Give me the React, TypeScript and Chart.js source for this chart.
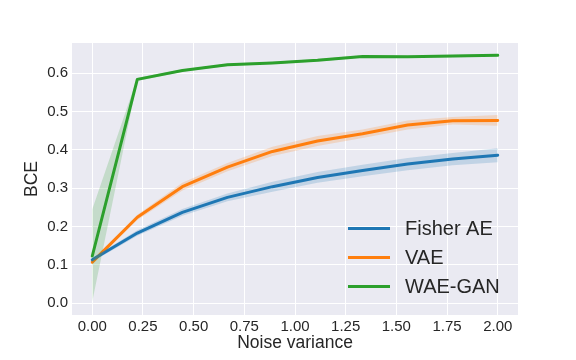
import React, { useEffect, useRef } from "react";
import { Chart, registerables } from "chart.js";

Chart.register(...registerables);

const noiseVariance = [0, 0.2222, 0.4444, 0.6667, 0.8889, 1.1111, 1.3333, 1.5556, 1.7778, 2.0];
const xTicks = [0, 0.25, 0.5, 0.75, 1.0, 1.25, 1.5, 1.75, 2.0];
const yTicks = [0, 0.1, 0.2, 0.3, 0.4, 0.5, 0.6];

const fisherMean = [0.113, 0.183, 0.237, 0.276, 0.304, 0.328, 0.346, 0.363, 0.376, 0.386];
const fisherLow = [0.108, 0.176, 0.228, 0.266, 0.291, 0.314, 0.331, 0.347, 0.360, 0.368];
const fisherHigh = [0.118, 0.190, 0.246, 0.286, 0.317, 0.342, 0.361, 0.379, 0.392, 0.404];

const vaeMean = [0.107, 0.224, 0.304, 0.355, 0.396, 0.423, 0.442, 0.465, 0.476, 0.477];
const vaeLow = [0.102, 0.217, 0.294, 0.344, 0.384, 0.410, 0.431, 0.453, 0.466, 0.463];
const vaeHigh = [0.112, 0.231, 0.314, 0.366, 0.408, 0.436, 0.453, 0.477, 0.486, 0.491];

const waeMean = [0.123, 0.584, 0.607, 0.622, 0.627, 0.634, 0.644, 0.643, 0.645, 0.647];
const waeLow = [0.004, 0.580, 0.604, 0.619, 0.624, 0.631, 0.641, 0.640, 0.642, 0.644];
const waeHigh = [0.245, 0.588, 0.610, 0.625, 0.630, 0.637, 0.647, 0.646, 0.648, 0.650];

const seriesNames = ["Fisher AE", "VAE", "WAE-GAN"];
const seriesColors = ["#1f77b4", "#ff7f0e", "#2ca02c"];
const bandColors = ["rgba(31,119,180,0.2)", "rgba(255,127,14,0.2)", "rgba(44,160,44,0.2)"];

const pts = (ys: number[]) => ys.map((y, i) => ({ x: noiseVariance[i], y }));

const FONT = "'Liberation Sans', Arial, sans-serif";

const bgPlugin = {
  id: "plotBg",
  beforeDraw(chart: any) {
    const { ctx, chartArea } = chart;
    ctx.save();
    ctx.fillStyle = "#ffffff";
    ctx.fillRect(0, 0, chart.width, chart.height);
    ctx.fillStyle = "#EAEAF2";
    ctx.fillRect(chartArea.left, chartArea.top, chartArea.right - chartArea.left, chartArea.bottom - chartArea.top);
    ctx.restore();
  },
};

const legendPlugin = {
  id: "innerLegend",
  afterDraw(chart: any) {
    const { ctx, chartArea } = chart;
    ctx.save();
    ctx.font = `20px ${FONT}`;
    ctx.textBaseline = "middle";
    const rowY = [228.5, 257.5, 286.5];
    const lineX0 = chartArea.right - 170;
    seriesNames.forEach((name, i) => {
      ctx.strokeStyle = seriesColors[i];
      ctx.lineWidth = 3;
      ctx.beginPath();
      ctx.moveTo(lineX0, rowY[i]);
      ctx.lineTo(lineX0 + 42, rowY[i]);
      ctx.stroke();
      ctx.fillStyle = "#262626";
      ctx.fillText(name, lineX0 + 57, rowY[i] + 1);
    });
    ctx.restore();
  },
};

export default function App() {
  const ref = useRef<HTMLCanvasElement>(null);
  useEffect(() => {
    document.body.style.margin = "0";
    const datasets: any[] = [];
    const groups = [
      [fisherMean, fisherLow, fisherHigh],
      [vaeMean, vaeLow, vaeHigh],
      [waeMean, waeLow, waeHigh],
    ];
    groups.forEach((g, i) => {
      datasets.push({
        label: seriesNames[i] + " low",
        data: pts(g[1]),
        borderWidth: 0,
        pointRadius: 0,
        fill: false,
        backgroundColor: bandColors[i],
        borderColor: "transparent",
      });
      datasets.push({
        label: seriesNames[i] + " high",
        data: pts(g[2]),
        borderWidth: 0,
        pointRadius: 0,
        fill: "-1",
        backgroundColor: bandColors[i],
        borderColor: "transparent",
      });
    });
    groups.forEach((g, i) => {
      datasets.push({
        label: seriesNames[i],
        data: pts(g[0]),
        borderColor: seriesColors[i],
        borderWidth: 3,
        pointRadius: 0,
        fill: false,
        borderCapStyle: "round",
        borderJoinStyle: "round",
      });
    });
    const chart = new Chart(ref.current!, {
      type: "line",
      data: { datasets },
      plugins: [bgPlugin, legendPlugin],
      options: {
        animation: false,
        responsive: false,
        maintainAspectRatio: false,
        layout: { padding: { top: 43, right: 58, left: 0, bottom: 0 } },
        plugins: { legend: { display: false }, tooltip: { enabled: false } },
        scales: {
          x: {
            type: "linear",
            min: -0.1,
            max: 2.1,
            afterBuildTicks(axis: any) {
              axis.ticks = xTicks.map((v) => ({ value: v }));
            },
            afterFit(axis: any) {
              axis.height = 45;
            },
            grid: { color: "#ffffff", lineWidth: 1, drawTicks: false },
            border: { display: false },
            ticks: {
              color: "#262626",
              font: { family: FONT, size: 15 },
              padding: 3,
              maxRotation: 0,
              callback: (v: any) => Number(v).toFixed(2),
            },
            title: {
              display: true,
              text: "Noise variance",
              color: "#262626",
              font: { family: FONT, size: 17.5 },
              padding: { top: 0, bottom: 6 },
            },
          },
          y: {
            type: "linear",
            min: -0.031,
            max: 0.679,
            afterBuildTicks(axis: any) {
              axis.ticks = yTicks.map((v) => ({ value: v }));
            },
            afterFit(axis: any) {
              axis.width = 72;
            },
            grid: { color: "#ffffff", lineWidth: 1, drawTicks: false },
            border: { display: false },
            ticks: {
              color: "#262626",
              font: { family: FONT, size: 15 },
              padding: 4,
              callback: (v: any) => Number(v).toFixed(1),
            },
            title: {
              display: true,
              text: "BCE",
              color: "#262626",
              font: { family: FONT, size: 17.5 },
              padding: { top: 22, bottom: 0 },
            },
          },
        },
      },
    } as any);
    return () => chart.destroy();
  }, []);
  return (
    <div style={{ position: "absolute", left: 0, top: 0, width: 576, height: 360 }}>
      <canvas ref={ref} width={576} height={360} style={{ width: 576, height: 360 }} />
    </div>
  );
}
